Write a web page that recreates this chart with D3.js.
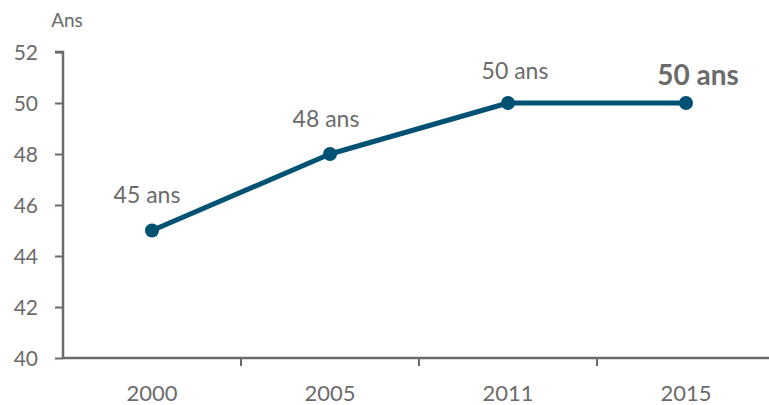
<!DOCTYPE html>
<html><head><meta charset="utf-8">
<script src="https://cdn.jsdelivr.net/npm/d3@7"></script>
<style>body{margin:0;background:#fff}svg{display:block}</style>
</head><body>
<script>
const categories = ["2000", "2005", "2011", "2015"];
const values = [45, 48, 50, 50];
const labels = ["45 ans", "48 ans", "50 ans", "50 ans"];
const yTicks = [40, 42, 44, 46, 48, 50, 52];
const yTitle = "Ans";

const W = 769, H = 405;
const font = "Lato, 'Open Sans', sans-serif";
const grey = "#6b6b6b";
const blue = "#005274";
const m = {left: 63, top: 52, bottom: 358};
const svg = d3.select("body").append("svg").attr("width", W).attr("height", H);

const x = d3.scaleBand().domain(categories).range([m.left, m.left + 4 * 178]);
const y = d3.scaleLinear().domain([40, 52]).range([m.bottom, m.top]);

// y axis
const ya = svg.append("g").attr("transform", `translate(${m.left},0)`)
  .call(d3.axisLeft(y).tickValues(yTicks).tickSize(8).tickPadding(17));
ya.select(".domain").attr("stroke", grey).attr("stroke-width", 2.5).attr("d", `M-8,${y(52)}H0V${y(40)}`);
ya.selectAll(".tick line").attr("stroke", grey).attr("stroke-width", 2);
ya.selectAll(".tick text").attr("fill", grey).attr("font-size", 21).attr("font-family", font).attr("dy", "0.38em");

// x axis
const xa = svg.append("g").attr("transform", `translate(0,${m.bottom})`)
  .call(d3.axisBottom(x).tickSize(0));
xa.select(".domain").attr("stroke", grey).attr("stroke-width", 2.5).attr("d", `M${m.left},0H${W}`);
xa.selectAll(".tick text").attr("fill", grey).attr("font-size", 22).attr("font-family", font)
  .attr("y", 43).attr("dy", 0);
xa.selectAll(".sep").data(categories.slice(1)).join("line").attr("class", "sep")
  .attr("x1", d => x(d)).attr("x2", d => x(d)).attr("y1", 0).attr("y2", 8)
  .attr("stroke", grey).attr("stroke-width", 2);

svg.append("text").attr("x", 67).attr("y", 27).attr("text-anchor", "middle")
  .attr("fill", grey).attr("font-size", 19).attr("font-family", font).text(yTitle);

const cx = d => x(d) + x.bandwidth() / 2;
const pts = categories.map((c, i) => [cx(c), y(values[i])]);
svg.append("path").attr("d", d3.line()(pts)).attr("fill", "none")
  .attr("stroke", blue).attr("stroke-width", 5).attr("stroke-linejoin", "round");
svg.selectAll("circle.pt").data(pts).join("circle").attr("class", "pt")
  .attr("cx", d => d[0]).attr("cy", d => d[1]).attr("r", 7).attr("fill", blue);

const dx = [-5, -4, 7, 12];
const dy = [-28, -27, -24, -18];
svg.selectAll("text.lbl").data(labels).join("text").attr("class", "lbl")
  .attr("x", (d, i) => pts[i][0] + dx[i]).attr("y", (d, i) => pts[i][1] + dy[i])
  .attr("text-anchor", "middle").attr("fill", grey).attr("font-family", font)
  .attr("font-size", (d, i) => i === 3 ? 28 : 23)
  .attr("font-weight", (d, i) => i === 3 ? "bold" : "normal")
  .text(d => d);
</script>
</body></html>
